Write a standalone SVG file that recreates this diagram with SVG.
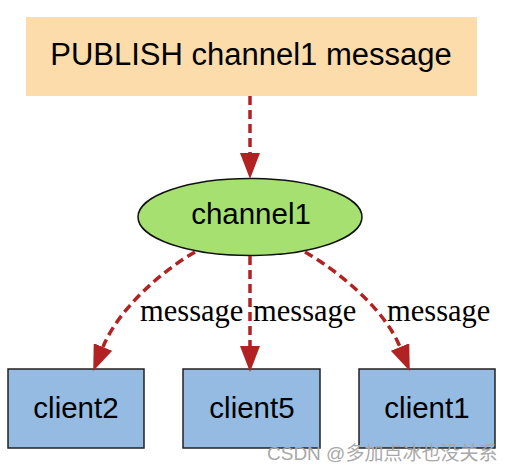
<svg xmlns="http://www.w3.org/2000/svg" width="512" height="473" viewBox="0 0 512 473">
<style>
.sans{font-family:"Liberation Sans",Arial,sans-serif;fill:#000;text-anchor:middle}
.serif{font-family:"Liberation Serif","Times New Roman",serif;fill:#000;font-size:30.5px}
.edge{fill:none;stroke:#b22222;stroke-width:3.5;stroke-dasharray:9,5}
.client{fill:#95bbe3;stroke:#222;stroke-width:1.5}
</style>
<defs>
<marker id="ah" viewBox="0 0 26 20" refX="0" refY="10" markerWidth="26" markerHeight="20" markerUnits="userSpaceOnUse" orient="auto">
<path d="M0,0 L26,10 L0,20 z" fill="#b22222"/>
</marker>
</defs>
<rect width="512" height="473" fill="#fff"/>
<g id="publish">
<rect x="26" y="17" width="451" height="79" fill="#fbdcaa"/>
<text class="sans" x="251" y="65" font-size="31">PUBLISH channel1 message</text>
</g>
<g id="channel1">
<ellipse cx="250" cy="217" rx="112" ry="38.5" fill="#a6e070" stroke="#111" stroke-width="1.5"/>
<text class="sans" x="251" y="224" font-size="29.5">channel1</text>
</g>
<g id="client2">
<rect class="client" x="8" y="369" width="136" height="79"/>
<text class="sans" x="76" y="418" font-size="29.5">client2</text>
</g>
<g id="client5">
<rect class="client" x="183" y="369" width="137" height="79"/>
<text class="sans" x="252" y="418" font-size="29.5">client5</text>
</g>
<g id="client1">
<rect class="client" x="359" y="369" width="136" height="79"/>
<text class="sans" x="427" y="418" font-size="29.5">client1</text>
</g>
<g id="connectors">
<path class="edge" d="M250,96 L250,153" marker-end="url(#ah)"/>
<path class="edge" d="M250,256 L250,346" marker-end="url(#ah)"/>
<path class="edge" d="M195,252 C160,272 118,310 103,347" marker-end="url(#ah)"/>
<path class="edge" d="M305,252 C340,272 385,310 400,347" marker-end="url(#ah)"/>
<text class="serif" x="140" y="321">message</text>
<text class="serif" x="253" y="321">message</text>
<text class="serif" x="387" y="321">message</text>
</g>
<text x="267" y="460" font-family="'Liberation Sans','Noto Sans CJK SC',sans-serif" font-size="19" fill="#a8a8a8">CSDN @多加点冰也没关系</text>
</svg>
